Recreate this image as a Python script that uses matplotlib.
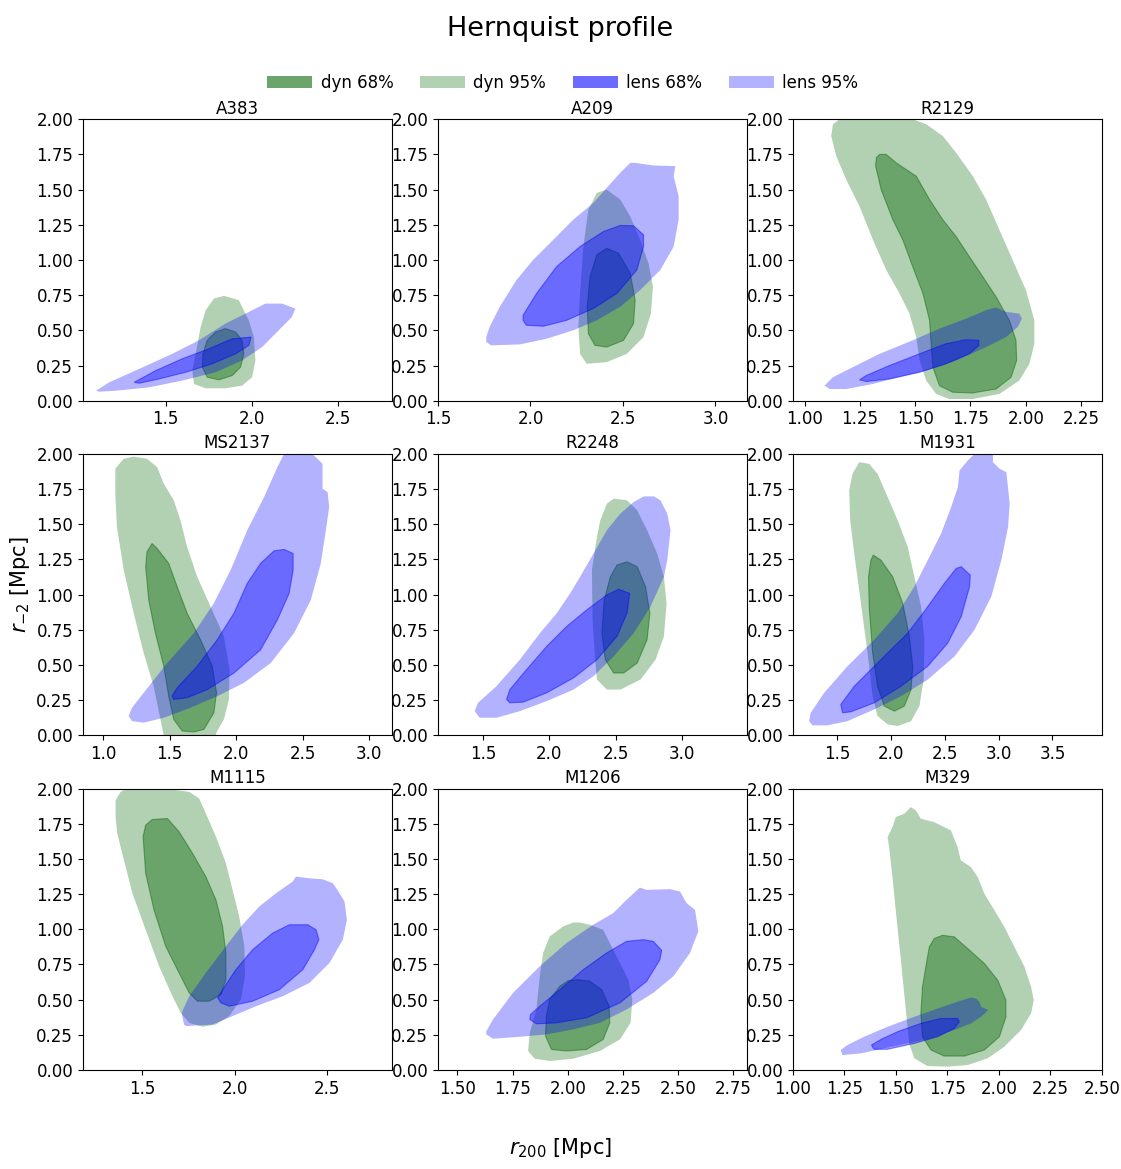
import numpy as np
import matplotlib
matplotlib.use("Agg")
import matplotlib.pyplot as plt
from matplotlib.patches import Patch
from matplotlib.ticker import MultipleLocator

# cluster names, x ranges and x tick steps (r200 axis)
CLUSTERS = ["A383", "A209", "R2129", "MS2137", "R2248", "M1931", "M1115", "M1206", "M329"]
XLIMS = [(1.02, 2.81), (1.50, 3.17), (0.947, 2.345),
         (0.85, 3.17), (1.16, 3.49), (1.086, 3.96),
         (1.178, 2.853), (1.412, 2.811), (1.0, 2.5)]
XSTEPS = [0.5, 0.5, 0.25, 0.5, 0.5, 0.5, 0.5, 0.25, 0.25]

# confidence region outlines (r200, r_-2)
A383_DYN95 = [(1.837, 0.745), (1.923, 0.714), (1.981, 0.571), (2.01, 0.452), (2.019, 0.286), (2.0, 0.167),
              (1.942, 0.107), (1.846, 0.088), (1.731, 0.088), (1.663, 0.119), (1.654, 0.214), (1.673, 0.333),
              (1.702, 0.524), (1.731, 0.643), (1.779, 0.726)]
A383_DYN68 = [(1.846, 0.512), (1.904, 0.488), (1.942, 0.429), (1.952, 0.333), (1.933, 0.238), (1.885, 0.179),
              (1.808, 0.148), (1.74, 0.167), (1.712, 0.238), (1.715, 0.333), (1.74, 0.429), (1.788, 0.488)]
A383_LENS95 = [(1.096, 0.071), (1.173, 0.131), (1.346, 0.226), (1.538, 0.333), (1.692, 0.429), (1.846, 0.548),
               (1.962, 0.619), (2.077, 0.690), (2.173, 0.690), (2.25, 0.655), (2.231, 0.595), (2.154, 0.5),
               (2.058, 0.381), (1.942, 0.286), (1.788, 0.202), (1.596, 0.143), (1.404, 0.095), (1.212, 0.071),
               (1.115, 0.064)]
A383_LENS68 = [(1.317, 0.131), (1.442, 0.214), (1.596, 0.298), (1.75, 0.369), (1.885, 0.440), (1.994, 0.452),
               (1.981, 0.393), (1.904, 0.333), (1.769, 0.262), (1.615, 0.202), (1.462, 0.155), (1.346, 0.124)]

A209_DYN95 = [(2.412, 1.5), (2.485, 1.429), (2.539, 1.31), (2.593, 1.143), (2.638, 0.976), (2.662, 0.810),
              (2.651, 0.619), (2.611, 0.452), (2.521, 0.333), (2.412, 0.274), (2.304, 0.262), (2.268, 0.333),
              (2.259, 0.524), (2.268, 0.762), (2.286, 1.095), (2.313, 1.357), (2.358, 1.476)]
A209_DYN68 = [(2.412, 1.083), (2.476, 1.048), (2.539, 0.905), (2.566, 0.714), (2.557, 0.548), (2.503, 0.429),
              (2.412, 0.381), (2.349, 0.393), (2.313, 0.476), (2.307, 0.667), (2.322, 0.881), (2.358, 1.036)]
A209_LENS95 = [(1.761, 0.417), (1.788, 0.393), (1.942, 0.40), (2.087, 0.440), (2.231, 0.5), (2.358, 0.571),
               (2.485, 0.667), (2.593, 0.786), (2.702, 0.929), (2.774, 1.095), (2.801, 1.286), (2.801, 1.452),
               (2.774, 1.595), (2.783, 1.667), (2.665, 1.671), (2.566, 1.690), (2.539, 1.69), (2.485, 1.619),
               (2.412, 1.512), (2.34, 1.405), (2.231, 1.286), (2.123, 1.143), (2.014, 1.0), (1.924, 0.857),
               (1.834, 0.667), (1.779, 0.524), (1.761, 0.452)]
A209_LENS68 = [(1.96, 0.571), (1.978, 0.536), (2.069, 0.529), (2.195, 0.571), (2.34, 0.655), (2.467, 0.762),
               (2.575, 0.929), (2.611, 1.095), (2.611, 1.179), (2.557, 1.243), (2.485, 1.245), (2.394, 1.202),
               (2.268, 1.095), (2.141, 0.952), (2.033, 0.762), (1.96, 0.607)]

R2129_DYN95 = [(1.128, 1.964), (1.158, 2.0), (1.489, 2.0), (1.55, 1.964), (1.625, 1.881), (1.685, 1.762),
               (1.761, 1.595), (1.821, 1.429), (1.881, 1.214), (1.941, 1.0), (2.001, 0.786), (2.039, 0.571),
               (2.039, 0.405), (2.017, 0.262), (1.971, 0.143), (1.881, 0.048), (1.76, 0.012), (1.655, 0.012),
               (1.595, 0.048), (1.55, 0.143), (1.52, 0.286), (1.505, 0.452), (1.474, 0.619), (1.429, 0.762),
               (1.369, 0.929), (1.309, 1.143), (1.248, 1.381), (1.188, 1.571), (1.143, 1.738), (1.120, 1.881)]
R2129_DYN68 = [(1.339, 1.75), (1.369, 1.75), (1.414, 1.69), (1.505, 1.595), (1.565, 1.429), (1.625, 1.286),
               (1.685, 1.167), (1.745, 1.024), (1.806, 0.881), (1.866, 0.738), (1.926, 0.571), (1.956, 0.429),
               (1.959, 0.286), (1.934, 0.167), (1.866, 0.083), (1.76, 0.055), (1.67, 0.06), (1.61, 0.107),
               (1.580, 0.238), (1.572, 0.405), (1.565, 0.571), (1.535, 0.762), (1.489, 0.952), (1.444, 1.143),
               (1.399, 1.286), (1.346, 1.5), (1.321, 1.667), (1.324, 1.726)]
R2129_LENS95 = [(1.090, 0.107), (1.113, 0.083), (1.188, 0.083), (1.309, 0.119), (1.429, 0.167), (1.55, 0.214),
                (1.685, 0.286), (1.821, 0.381), (1.911, 0.452), (1.964, 0.524), (1.983, 0.583), (1.971, 0.619),
                (1.911, 0.631), (1.866, 0.662), (1.821, 0.643), (1.730, 0.583), (1.61, 0.512), (1.489, 0.429),
                (1.339, 0.333), (1.218, 0.238), (1.128, 0.167)]
R2129_LENS68 = [(1.248, 0.148), (1.279, 0.136), (1.384, 0.155), (1.52, 0.202), (1.64, 0.262), (1.745, 0.333),
                (1.788, 0.393), (1.788, 0.429), (1.730, 0.433), (1.64, 0.405), (1.52, 0.333), (1.384, 0.25),
                (1.279, 0.179)]

MS2137_DYN95 = [(1.093, 1.894), (1.156, 1.965), (1.231, 1.981), (1.331, 1.965), (1.407, 1.906), (1.457, 1.788),
                (1.532, 1.670), (1.582, 1.528), (1.632, 1.34), (1.708, 1.127), (1.808, 0.915), (1.908, 0.703),
                (1.951, 0.467), (1.946, 0.255), (1.908, 0.113), (1.858, 0.031), (1.846, 0.0), (1.457, 0.0),
                (1.432, 0.113), (1.381, 0.349), (1.306, 0.585), (1.231, 0.868), (1.156, 1.175), (1.105, 1.481),
                (1.093, 1.717)]
MS2137_DYN68 = [(1.369, 1.363), (1.407, 1.328), (1.494, 1.222), (1.557, 1.057), (1.632, 0.868), (1.733, 0.679),
                (1.821, 0.491), (1.853, 0.302), (1.833, 0.160), (1.758, 0.042), (1.683, 0.024), (1.595, 0.031),
                (1.532, 0.113), (1.494, 0.278), (1.457, 0.491), (1.394, 0.726), (1.344, 0.962), (1.321, 1.198),
                (1.331, 1.304)]
MS2137_LENS95 = [(1.193, 0.137), (1.218, 0.101), (1.306, 0.090), (1.457, 0.125), (1.657, 0.196), (1.858, 0.278),
                 (2.059, 0.373), (2.26, 0.514), (2.435, 0.726), (2.561, 0.962), (2.636, 1.222), (2.674, 1.458),
                 (2.699, 1.623), (2.687, 1.729), (2.649, 1.752), (2.649, 1.929), (2.586, 1.988), (2.573, 2.0),
                 (2.36, 2.0), (2.31, 1.906), (2.21, 1.693), (2.084, 1.458), (1.959, 1.175), (1.833, 0.939),
                 (1.683, 0.726), (1.482, 0.514), (1.306, 0.302), (1.218, 0.196)]
MS2137_LENS68 = [(1.519, 0.278), (1.532, 0.255), (1.632, 0.267), (1.783, 0.325), (1.984, 0.443), (2.184, 0.608),
                 (2.31, 0.821), (2.398, 1.009), (2.428, 1.175), (2.428, 1.292), (2.36, 1.321), (2.285, 1.311),
                 (2.184, 1.222), (2.084, 1.080), (1.984, 0.868), (1.858, 0.679), (1.708, 0.491), (1.557, 0.337)]

R2248_DYN95 = [(2.485, 1.682), (2.586, 1.670), (2.662, 1.599), (2.737, 1.458), (2.813, 1.292), (2.864, 1.127),
               (2.884, 0.939), (2.864, 0.703), (2.801, 0.538), (2.687, 0.396), (2.535, 0.325), (2.434, 0.325),
               (2.359, 0.396), (2.346, 0.538), (2.326, 0.821), (2.321, 1.175), (2.359, 1.410), (2.384, 1.528),
               (2.434, 1.646)]
R2248_DYN68 = [(2.586, 1.233), (2.662, 1.198), (2.725, 1.057), (2.758, 0.868), (2.737, 0.679), (2.662, 0.514),
               (2.561, 0.443), (2.485, 0.443), (2.422, 0.538), (2.396, 0.726), (2.414, 0.962), (2.46, 1.127),
               (2.51, 1.21)]
R2248_LENS95 = [(1.437, 0.172), (1.475, 0.125), (1.601, 0.125), (1.778, 0.172), (1.98, 0.243), (2.182, 0.325),
                (2.333, 0.42), (2.485, 0.561), (2.636, 0.726), (2.763, 0.915), (2.864, 1.127), (2.889, 1.245),
                (2.914, 1.458), (2.889, 1.575), (2.838, 1.670), (2.788, 1.698), (2.712, 1.698), (2.636, 1.658),
                (2.535, 1.575), (2.434, 1.458), (2.333, 1.292), (2.232, 1.127), (2.157, 1.009), (2.056, 0.868),
                (1.929, 0.726), (1.778, 0.538), (1.601, 0.349), (1.462, 0.231)]
R2248_LENS68 = [(1.677, 0.255), (1.702, 0.231), (1.803, 0.236), (1.98, 0.302), (2.182, 0.408), (2.359, 0.538),
                (2.51, 0.703), (2.586, 0.868), (2.606, 1.009), (2.523, 1.038), (2.434, 0.998), (2.283, 0.892),
                (2.131, 0.774), (1.980, 0.632), (1.828, 0.467), (1.702, 0.325)]

M1931_DYN95 = [(1.702, 1.941), (1.795, 1.929), (1.873, 1.858), (1.967, 1.693), (2.06, 1.528), (2.153, 1.340),
               (2.215, 1.127), (2.278, 0.915), (2.309, 0.679), (2.302, 0.396), (2.262, 0.208), (2.184, 0.101),
               (2.06, 0.066), (1.967, 0.078), (1.873, 0.137), (1.827, 0.278), (1.78, 0.585), (1.718, 0.939),
               (1.656, 1.292), (1.618, 1.528), (1.609, 1.741), (1.64, 1.858)]
M1931_DYN68 = [(1.833, 1.281), (1.904, 1.245), (2.013, 1.127), (2.107, 0.939), (2.169, 0.703), (2.2, 0.491),
               (2.184, 0.325), (2.122, 0.208), (2.029, 0.172), (1.935, 0.208), (1.873, 0.349), (1.827, 0.585),
               (1.795, 0.915), (1.789, 1.127), (1.811, 1.245)]
M1931_LENS95 = [(1.236, 0.101), (1.267, 0.071), (1.407, 0.071), (1.593, 0.101), (1.842, 0.184), (2.091, 0.278),
                (2.340, 0.396), (2.589, 0.561), (2.775, 0.75), (2.931, 0.986), (3.024, 1.245), (3.087, 1.481),
                (3.102, 1.646), (3.071, 1.870), (3.009, 1.894), (2.946, 1.941), (2.946, 2.0), (2.775, 2.0),
                (2.713, 1.953), (2.635, 1.882), (2.620, 1.764), (2.558, 1.623), (2.464, 1.434), (2.340, 1.245),
                (2.215, 1.057), (2.06, 0.868), (1.842, 0.679), (1.593, 0.491), (1.376, 0.302), (1.251, 0.160)]
M1931_LENS68 = [(1.531, 0.219), (1.547, 0.160), (1.624, 0.167), (1.842, 0.231), (2.091, 0.349), (2.340, 0.491),
                (2.526, 0.656), (2.651, 0.844), (2.729, 1.057), (2.735, 1.139), (2.651, 1.198), (2.604, 1.186),
                (2.495, 1.080), (2.340, 0.915), (2.153, 0.726), (1.904, 0.538), (1.656, 0.349)]

M1115_DYN95 = [(1.355, 1.917), (1.382, 1.976), (1.409, 1.995), (1.645, 1.995), (1.754, 1.976), (1.808, 1.929),
               (1.844, 1.823), (1.899, 1.658), (1.953, 1.469), (1.989, 1.280), (2.025, 1.091), (2.053, 0.878),
               (2.056, 0.666), (2.034, 0.501), (1.971, 0.383), (1.899, 0.323), (1.826, 0.307), (1.754, 0.335),
               (1.708, 0.406), (1.663, 0.524), (1.591, 0.737), (1.518, 0.996), (1.446, 1.256), (1.400, 1.492),
               (1.364, 1.681), (1.355, 1.799)]
M1115_DYN68 = [(1.554, 1.780), (1.636, 1.787), (1.699, 1.693), (1.772, 1.540), (1.844, 1.374), (1.899, 1.209),
               (1.935, 1.020), (1.953, 0.831), (1.953, 0.642), (1.926, 0.536), (1.862, 0.489), (1.799, 0.489),
               (1.754, 0.548), (1.699, 0.690), (1.627, 0.878), (1.563, 1.138), (1.518, 1.398), (1.504, 1.658),
               (1.518, 1.740)]
M1115_LENS95 = [(1.726, 0.323), (1.736, 0.312), (1.880, 0.323), (1.989, 0.383), (2.116, 0.453), (2.261, 0.524),
                (2.406, 0.619), (2.514, 0.760), (2.587, 0.926), (2.609, 1.067), (2.596, 1.197), (2.569, 1.256),
                (2.533, 1.327), (2.478, 1.355), (2.406, 1.362), (2.333, 1.374), (2.315, 1.339), (2.225, 1.256),
                (2.134, 1.162), (2.043, 1.032), (1.953, 0.879), (1.844, 0.690), (1.754, 0.524), (1.713, 0.406)]
M1115_LENS68 = [(1.908, 0.512), (1.926, 0.477), (1.971, 0.453), (2.098, 0.489), (2.243, 0.571), (2.370, 0.713),
                (2.433, 0.855), (2.457, 0.926), (2.442, 0.996), (2.397, 1.032), (2.297, 1.032), (2.207, 0.973),
                (2.098, 0.855), (2.007, 0.713), (1.935, 0.571)]

M1206_DYN95 = [(2.054, 1.048), (2.1, 1.032), (2.160, 0.996), (2.19, 0.902), (2.236, 0.760), (2.274, 0.642),
               (2.292, 0.501), (2.284, 0.335), (2.236, 0.217), (2.145, 0.135), (2.024, 0.080), (1.918, 0.064),
               (1.850, 0.080), (1.820, 0.135), (1.828, 0.264), (1.858, 0.43), (1.873, 0.666), (1.888, 0.831),
               (1.918, 0.949), (1.979, 1.020), (2.024, 1.048)]
M1206_DYN68 = [(2.047, 0.642), (2.1, 0.630), (2.153, 0.571), (2.187, 0.453), (2.19, 0.335), (2.160, 0.217),
               (2.085, 0.146), (1.994, 0.135), (1.926, 0.146), (1.899, 0.241), (1.903, 0.383), (1.918, 0.501),
               (1.964, 0.595), (2.002, 0.635)]
M1206_LENS95 = [(1.631, 0.253), (1.661, 0.222), (1.782, 0.236), (1.903, 0.253), (2.024, 0.288), (2.145, 0.335),
                (2.266, 0.43), (2.387, 0.548), (2.478, 0.666), (2.553, 0.831), (2.591, 0.985), (2.576, 1.138),
                (2.538, 1.185), (2.508, 1.268), (2.463, 1.285), (2.357, 1.280), (2.326, 1.296), (2.266, 1.209),
                (2.206, 1.115), (2.115, 1.032), (1.994, 0.902), (1.873, 0.737), (1.752, 0.548), (1.661, 0.359),
                (1.631, 0.276)]
M1206_LENS68 = [(1.828, 0.359), (1.858, 0.328), (1.949, 0.335), (2.085, 0.371), (2.236, 0.477), (2.357, 0.630),
                (2.417, 0.784), (2.425, 0.850), (2.387, 0.914), (2.342, 0.926), (2.266, 0.914), (2.175, 0.831),
                (2.070, 0.713), (1.964, 0.571), (1.873, 0.453), (1.831, 0.394)]

M329_DYN95 = [(1.572, 1.868), (1.597, 1.844), (1.621, 1.785), (1.686, 1.761), (1.718, 1.738), (1.767, 1.702),
              (1.799, 1.584), (1.815, 1.489), (1.864, 1.442), (1.897, 1.371), (1.929, 1.253), (1.978, 1.135),
              (2.026, 1.017), (2.075, 0.875), (2.124, 0.733), (2.156, 0.591), (2.169, 0.496), (2.156, 0.402),
              (2.107, 0.284), (2.026, 0.165), (1.945, 0.083), (1.848, 0.035), (1.751, 0.024), (1.653, 0.028),
              (1.589, 0.083), (1.564, 0.189), (1.548, 0.426), (1.524, 0.780), (1.499, 1.135), (1.483, 1.371),
              (1.467, 1.584), (1.459, 1.655), (1.483, 1.726), (1.499, 1.797), (1.540, 1.820)]
M329_DYN68 = [(1.726, 0.957), (1.783, 0.946), (1.848, 0.863), (1.929, 0.757), (1.994, 0.638), (2.034, 0.496),
              (2.034, 0.378), (2.002, 0.236), (1.929, 0.142), (1.832, 0.099), (1.734, 0.099), (1.67, 0.142),
              (1.629, 0.236), (1.621, 0.402), (1.629, 0.591), (1.645, 0.733), (1.662, 0.875), (1.686, 0.934)]
M329_LENS95 = [(1.232, 0.142), (1.240, 0.106), (1.329, 0.118), (1.443, 0.154), (1.556, 0.189), (1.67, 0.225),
               (1.783, 0.284), (1.864, 0.331), (1.913, 0.378), (1.948, 0.426), (1.913, 0.449), (1.905, 0.485),
               (1.888, 0.508), (1.864, 0.515), (1.799, 0.485), (1.702, 0.437), (1.589, 0.378), (1.459, 0.307),
               (1.345, 0.236), (1.264, 0.177)]
M329_LENS68 = [(1.381, 0.177), (1.394, 0.147), (1.459, 0.147), (1.589, 0.189), (1.702, 0.236), (1.783, 0.296),
               (1.808, 0.343), (1.799, 0.366), (1.718, 0.366), (1.621, 0.331), (1.508, 0.272), (1.427, 0.217)]

DYN95 = [A383_DYN95, A209_DYN95, R2129_DYN95, MS2137_DYN95, R2248_DYN95, M1931_DYN95, M1115_DYN95, M1206_DYN95, M329_DYN95]
DYN68 = [A383_DYN68, A209_DYN68, R2129_DYN68, MS2137_DYN68, R2248_DYN68, M1931_DYN68, M1115_DYN68, M1206_DYN68, M329_DYN68]
LENS95 = [A383_LENS95, A209_LENS95, R2129_LENS95, MS2137_LENS95, R2248_LENS95, M1931_LENS95, M1115_LENS95, M1206_LENS95, M329_LENS95]
LENS68 = [A383_LENS68, A209_LENS68, R2129_LENS68, MS2137_LENS68, R2248_LENS68, M1931_LENS68, M1115_LENS68, M1206_LENS68, M329_LENS68]

DYN_COLOR = "darkgreen"
LENS_COLOR = "blue"


def draw_region(ax, pts, color, alpha, edge):
    xy = np.array(pts)
    ax.fill(xy[:, 0], xy[:, 1], color=color, alpha=alpha, lw=0)
    if edge:
        ax.fill(xy[:, 0], xy[:, 1], facecolor="none", edgecolor=color, alpha=0.45, lw=0.8)


fig, axes = plt.subplots(3, 3, figsize=(11.21, 11.69), dpi=100)
fig.subplots_adjust(left=0.074, right=0.983, top=0.898, bottom=0.0847, wspace=0.149, hspace=0.189)

for i, ax in enumerate(axes.flat):
    draw_region(ax, DYN95[i], DYN_COLOR, 0.3, False)
    draw_region(ax, DYN68[i], DYN_COLOR, 0.4, True)
    draw_region(ax, LENS95[i], LENS_COLOR, 0.3, False)
    draw_region(ax, LENS68[i], LENS_COLOR, 0.4, True)
    ax.set_xlim(*XLIMS[i])
    ax.set_ylim(0, 2)
    ax.xaxis.set_major_locator(MultipleLocator(XSTEPS[i]))
    ax.yaxis.set_major_locator(MultipleLocator(0.25))
    ax.tick_params(labelsize=12)
    ax.set_title(CLUSTERS[i], fontsize=12, pad=4)

handles = [Patch(color=DYN_COLOR, alpha=0.58, lw=0, label="dyn 68%"),
           Patch(color=DYN_COLOR, alpha=0.3, lw=0, label="dyn 95%"),
           Patch(color=LENS_COLOR, alpha=0.58, lw=0, label="lens 68%"),
           Patch(color=LENS_COLOR, alpha=0.3, lw=0, label="lens 95%")]
fig.legend(handles=handles, loc="center", bbox_to_anchor=(0.502, 0.929), ncol=4,
           frameon=False, fontsize=12, handlelength=2.7, handletextpad=0.5, columnspacing=1.6)

fig.suptitle("Hernquist profile", fontsize=19.5, y=0.975, va="center")
fig.supxlabel(r"$r_{200}$ [Mpc]", fontsize=15, y=0.018, va="center")
fig.supylabel(r"$r_{-2}$ [Mpc]", fontsize=15, x=0.018, ha="center")

fig.savefig("out.png", dpi=100)
